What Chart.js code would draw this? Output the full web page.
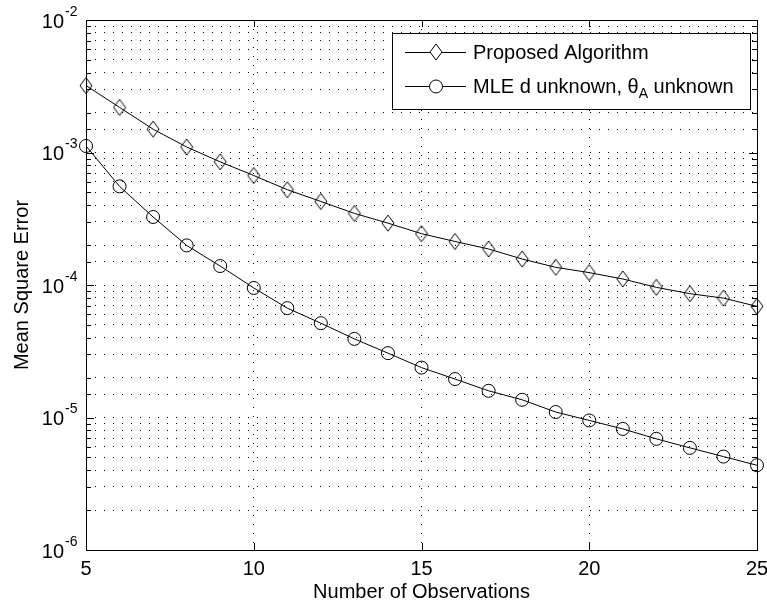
<!DOCTYPE html>
<html>
<head>
<meta charset="utf-8">
<script src="https://cdn.jsdelivr.net/npm/chart.js@4"></script>
<style>
  html, body { margin: 0; padding: 0; background: #fff; }
  canvas { display: block; }
</style>
</head>
<body>
<canvas id="mseChart" width="767" height="605"></canvas>
<script>
// data
const observations = [5, 6, 7, 8, 9, 10, 11, 12, 13, 14, 15, 16, 17, 18, 19, 20, 21, 22, 23, 24, 25];
const proposedMse = [3.2e-3, 2.19e-3, 1.50e-3, 1.10e-3, 8.5e-4, 6.7e-4, 5.24e-4, 4.27e-4, 3.47e-4, 2.93e-4,
  2.44e-4, 2.13e-4, 1.87e-4, 1.57e-4, 1.36e-4, 1.24e-4, 1.11e-4, 9.6e-5, 8.6e-5, 7.96e-5, 6.9e-5];
const mleMse = [1.12e-3, 5.55e-4, 3.26e-4, 1.99e-4, 1.39e-4, 9.5e-5, 6.69e-5, 5.15e-5, 3.92e-5, 3.06e-5,
  2.38e-5, 1.95e-5, 1.59e-5, 1.36e-5, 1.10e-5, 9.5e-6, 8.2e-6, 6.9e-6, 5.9e-6, 5.07e-6, 4.36e-6];
const xTicks = [5, 10, 15, 20, 25];
const yTickExps = [-6, -5, -4, -3, -2];

const FONT = '"Liberation Sans", Arial, Helvetica, sans-serif';
Chart.defaults.font.family = FONT;
Chart.defaults.color = '#000';

// MATLAB style diamond marker (a bit taller than wide)
function diamondMarker() {
  const c = document.createElement('canvas');
  c.width = 14; c.height = 18;
  const g = c.getContext('2d');
  g.strokeStyle = '#000';
  g.lineWidth = 1;
  g.beginPath();
  g.moveTo(7, 1); g.lineTo(13, 9); g.lineTo(7, 17); g.lineTo(1, 9); g.closePath();
  g.stroke();
  return c;
}
const diamond = diamondMarker();

// frame, inward ticks, power-of-ten labels and the legend box
const matlabAxes = {
  id: 'matlabAxes',
  afterDraw(chart) {
    const ctx = chart.ctx;
    const a = chart.chartArea;
    const xs = chart.scales.x, ys = chart.scales.y;
    ctx.save();
    ctx.strokeStyle = '#000';
    ctx.lineWidth = 1;

    // ticks
    ctx.beginPath();
    xs.ticks.forEach(t => {
      const px = Math.round(xs.getPixelForValue(t.value)) + 0.5;
      ctx.moveTo(px, a.bottom); ctx.lineTo(px, a.bottom - 7);
      ctx.moveTo(px, a.top); ctx.lineTo(px, a.top + 7);
    });
    ys.ticks.forEach(t => {
      const py = Math.round(ys.getPixelForValue(t.value)) + 0.5;
      const major = Math.abs(Math.log10(t.value) - Math.round(Math.log10(t.value))) < 1e-9;
      const len = major ? 8 : 5;
      ctx.moveTo(a.left, py); ctx.lineTo(a.left + len, py);
      ctx.moveTo(a.right, py); ctx.lineTo(a.right - len, py);
    });
    ctx.stroke();

    // frame
    ctx.strokeRect(Math.round(a.left) + 0.5, Math.round(a.top) + 0.5,
      Math.round(a.right - a.left), Math.round(a.bottom - a.top));

    // y tick labels 10^k
    ctx.fillStyle = '#000';
    yTickExps.forEach(k => {
      const py = ys.getPixelForValue(Math.pow(10, k));
      ctx.font = '20px ' + FONT;
      ctx.textAlign = 'right';
      ctx.textBaseline = 'middle';
      ctx.fillText('10', a.left - 22, py + 2);
      ctx.font = '14px ' + FONT;
      ctx.textAlign = 'left';
      ctx.fillText('-' + Math.abs(k), a.left - 21, py - 8);
    });

    // legend
    const lx = 392, ly = 33, lw = 358, lh = 76;
    ctx.fillStyle = '#fff';
    ctx.fillRect(lx, ly, lw, lh);
    ctx.strokeRect(lx + 0.5, ly + 0.5, lw, lh);
    const rows = [ly + 19, ly + 53];
    ctx.beginPath();
    rows.forEach(ry => { ctx.moveTo(405, ry + 0.5); ctx.lineTo(466, ry + 0.5); });
    ctx.stroke();
    ctx.fillStyle = '#fff';
    ctx.beginPath();
    ctx.moveTo(436, rows[0] - 8); ctx.lineTo(442, rows[0]); ctx.lineTo(436, rows[0] + 8); ctx.lineTo(430, rows[0]);
    ctx.closePath(); ctx.fill(); ctx.stroke();
    ctx.beginPath();
    ctx.arc(436, rows[1] + 0.5, 6.5, 0, Math.PI * 2);
    ctx.fill(); ctx.stroke();

    ctx.fillStyle = '#000';
    ctx.textAlign = 'left';
    ctx.textBaseline = 'middle';
    ctx.font = '20px ' + FONT;
    ctx.fillText('Proposed Algorithm', 473, rows[0] + 1);
    let tx = 473;
    const part1 = 'MLE d unknown, \u03b8';
    ctx.fillText(part1, tx, rows[1] + 1);
    tx += ctx.measureText(part1).width;
    ctx.font = '14px ' + FONT;
    ctx.fillText('A', tx, rows[1] + 8);
    tx += ctx.measureText('A').width;
    ctx.font = '20px ' + FONT;
    ctx.fillText(' unknown', tx, rows[1] + 1);
    ctx.restore();
  }
};

new Chart(document.getElementById('mseChart'), {
  type: 'line',
  data: {
    labels: observations,
    datasets: [
      {
        label: 'Proposed Algorithm',
        data: observations.map((x, i) => ({ x: x, y: proposedMse[i] })),
        borderColor: '#000',
        borderWidth: 1,
        pointStyle: diamond,
        pointRadius: 8,
        pointBackgroundColor: 'transparent',
        pointBorderColor: '#000',
        tension: 0,
        clip: false
      },
      {
        label: 'MLE d unknown, \u03b8A unknown',
        data: observations.map((x, i) => ({ x: x, y: mleMse[i] })),
        borderColor: '#000',
        borderWidth: 1,
        pointStyle: 'circle',
        pointRadius: 6.5,
        pointBorderWidth: 1,
        pointBackgroundColor: 'transparent',
        pointBorderColor: '#000',
        tension: 0,
        clip: false
      }
    ]
  },
  options: {
    responsive: false,
    animation: false,
    events: [],
    layout: { padding: { top: 20, right: 10, left: 0, bottom: 0 } },
    plugins: {
      legend: { display: false },
      tooltip: { enabled: false }
    },
    scales: {
      x: {
        type: 'linear',
        min: 5,
        max: 25,
        afterBuildTicks: scale => { scale.ticks = xTicks.map(v => ({ value: v })); },
        afterFit: scale => { scale.height = 55; scale.paddingLeft = 0; scale.paddingRight = 0; },
        grid: { color: '#000', lineWidth: 1, drawTicks: false },
        border: { display: false, dash: [1, 8] },
        ticks: { font: { size: 20 }, padding: 7, maxRotation: 0, autoSkip: false },
        title: {
          display: true,
          text: 'Number of Observations',
          font: { size: 20 },
          padding: { top: 0, bottom: 1 }
        }
      },
      y: {
        type: 'logarithmic',
        min: 1e-6,
        max: 1e-2,
        afterFit: scale => { scale.width = 86; scale.paddingTop = 0; scale.paddingBottom = 0; },
        grid: { color: '#000', lineWidth: 1, drawTicks: false },
        border: { display: false, dash: [1, 8] },
        ticks: { display: false },
        title: {
          display: true,
          text: 'Mean Square Error',
          font: { size: 20 },
          padding: { top: 10, bottom: 0 }
        }
      }
    }
  },
  plugins: [matlabAxes]
});
</script>
</body>
</html>
